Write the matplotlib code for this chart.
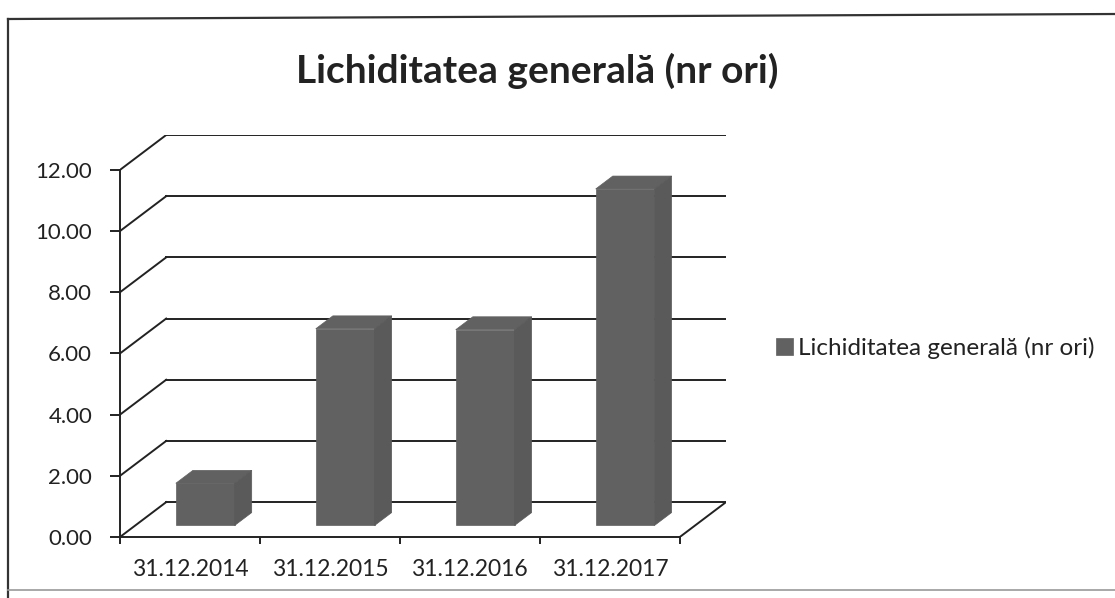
import numpy as np
import matplotlib.pyplot as plt
from matplotlib.patches import Polygon
from matplotlib.lines import Line2D

# data
categories = ["31.12.2014", "31.12.2015", "31.12.2016", "31.12.2017"]
values = [1.38, 6.43, 6.40, 11.00]
y_ticks = [0, 2, 4, 6, 8, 10, 12]
title = "Lichiditatea generală (nr ori)"
series_name = "Lichiditatea generală (nr ori)"

# oblique "3D" look: floor depth in data units, bar depth range as fraction of it
DX, DY = 0.33, 1.14
d0, d1 = 0.33, 0.70
bar_w = 0.42

plt.rcParams['font.family'] = ['Lato', 'DejaVu Sans']
text_col = '#222222'
line_col = '#222222'
bar_col = '#616161'

W, H = 1115, 598
fig = plt.figure(figsize=(W / 100, H / 100), dpi=100)
ax = fig.add_axes([120 / W, 61 / H, 606 / W, 402 / H])

n = len(categories)
x = np.arange(n)
ymax = y_ticks[-1]
ax.set_xlim(-0.5, n - 0.5 + DX)
ax.set_ylim(0, ymax + DY)

# back wall gridlines + left wall diagonals
for v in y_ticks:
    ax.plot([-0.5 + DX, n - 0.5 + DX], [v + DY, v + DY], color=line_col, lw=1.4, zorder=1)
    ax.plot([-0.5, -0.5 + DX], [v, v + DY], color=line_col, lw=1.4, zorder=1)
# right edge of the floor
ax.plot([n - 0.5, n - 0.5 + DX], [0, DY], color=line_col, lw=1.4, zorder=1)

# bars: front face via ax.bar, top and side faces as polygons
xc = x + d0 * DX
bars = ax.bar(xc, values, width=bar_w, bottom=d0 * DY, color=bar_col,
              edgecolor=bar_col, lw=0.5, zorder=3, label=series_name)
ddx, ddy = (d1 - d0) * DX, (d1 - d0) * DY
for xi, v in zip(xc, values):
    xl, xr = xi - bar_w / 2, xi + bar_w / 2
    yb, yt = d0 * DY, d0 * DY + v
    top = Polygon([(xl, yt), (xr, yt), (xr + ddx, yt + ddy), (xl + ddx, yt + ddy)],
                  closed=True, facecolor=bar_col, edgecolor=bar_col, lw=0.5, zorder=3)
    side = Polygon([(xr, yb), (xr + ddx, yb + ddy), (xr + ddx, yt + ddy), (xr, yt)],
                   closed=True, facecolor='#5a5a5a', edgecolor='#5a5a5a', lw=0.5, zorder=3)
    ax.add_patch(top)
    ax.add_patch(side)

# axes
for s in ['top', 'right']:
    ax.spines[s].set_visible(False)
ax.spines['left'].set_bounds(0, ymax)
ax.spines['bottom'].set_bounds(-0.5, n - 0.5)
for s in ['left', 'bottom']:
    ax.spines[s].set_color(line_col)
    ax.spines[s].set_linewidth(1.4)

ax.set_yticks(y_ticks)
ax.set_yticklabels([f"{v:.2f}" for v in y_ticks])
ax.tick_params(axis='y', direction='out', length=7, width=1.4, color=line_col,
               pad=13, labelsize=16, labelcolor=text_col)

ax.set_xticks(np.arange(-0.5, n, 1.0))
ax.set_xticklabels([])
ax.set_xticks(x, minor=True)
ax.set_xticklabels(categories, minor=True)
ax.tick_params(axis='x', which='major', direction='out', length=5, width=1.4, color=line_col)
ax.tick_params(axis='x', which='minor', length=0, pad=16, labelsize=16.5, labelcolor=text_col)

# title
fig.text(537 / W, 1 - 83 / H, title, ha='center', va='baseline',
         fontsize=28, fontweight='bold', color=text_col)

# legend
fig.legend(handles=[bars], labels=[series_name], loc='center left',
           bbox_to_anchor=(754 / W, 1 - 348 / H), frameon=False,
           fontsize=17.5, handlelength=0.7, handleheight=0.7,
           handletextpad=0.2, labelcolor=text_col)

# chart area border
fig.add_artist(Line2D([8 / W, 8 / W], [0, 1 - 19 / H], transform=fig.transFigure,
                      color='#333333', lw=1.6))
fig.add_artist(Line2D([8 / W, 1], [1 - 19 / H, 1 - 14 / H], transform=fig.transFigure,
                      color='#333333', lw=1.6))
fig.add_artist(Line2D([8 / W, 1], [1 - 590 / H, 1 - 590 / H], transform=fig.transFigure,
                      color='#9a9a9a', lw=1.2))

fig.savefig('out.png', dpi=100)
